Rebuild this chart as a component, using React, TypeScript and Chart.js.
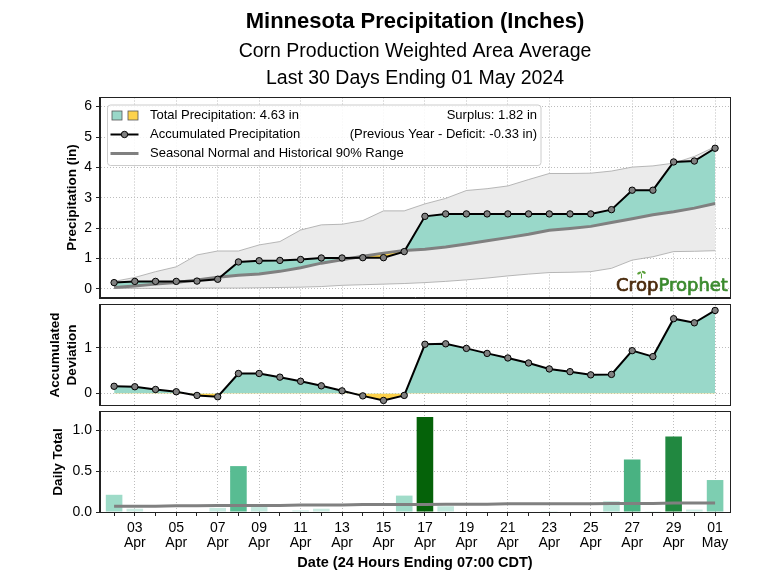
import React, { useEffect, useRef } from "react";
import { Chart, registerables } from "chart.js";

Chart.register(...registerables);

const FONT = "'Liberation Sans', Arial, Helvetica, sans-serif";

// ---------------- data ----------------
const dayLabels = ["02","03","04","05","06","07","08","09","10","11","12","13","14","15","16","17","18","19","20","21","22","23","24","25","26","27","28","29","30","01"];
const monthLabels = ["Apr","Apr","Apr","Apr","Apr","Apr","Apr","Apr","Apr","Apr","Apr","Apr","Apr","Apr","Apr","Apr","Apr","Apr","Apr","Apr","Apr","Apr","Apr","Apr","Apr","Apr","Apr","Apr","Apr","May"];

const dailyTotal = [0.21,0.04,0,0,0,0.05,0.56,0.06,0,0.02,0.04,0,0,0,0.20,1.16,0.07,0,0,0,0,0.01,0,0,0.13,0.64,0.01,0.92,0.03,0.39];
const dailyNormal = [0.07,0.07,0.07,0.075,0.075,0.08,0.08,0.08,0.08,0.085,0.085,0.085,0.09,0.09,0.09,0.09,0.095,0.095,0.095,0.1,0.1,0.1,0.1,0.1,0.105,0.105,0.105,0.11,0.11,0.11];
const accumulated = [0.21,0.25,0.25,0.25,0.26,0.32,0.89,0.93,0.94,0.97,1.02,1.02,1.03,1.03,1.23,2.39,2.47,2.47,2.47,2.47,2.47,2.47,2.47,2.47,2.61,3.25,3.25,4.18,4.21,4.63];
const normalAccum = [0.05,0.10,0.16,0.21,0.30,0.39,0.45,0.49,0.58,0.70,0.85,0.96,1.08,1.18,1.27,1.31,1.38,1.48,1.59,1.69,1.80,1.93,1.99,2.06,2.19,2.31,2.44,2.54,2.66,2.81];
const upper90 = [0.25,0.38,0.57,0.73,1.12,1.25,1.25,1.45,1.56,1.94,2.11,2.13,2.25,2.57,2.57,2.80,2.98,3.24,3.30,3.39,3.60,3.80,3.80,3.81,3.88,4.01,4.05,4.14,4.36,4.68];
const lower90 = [0.02,0.02,0.02,0.02,0.03,0.03,0.03,0.04,0.05,0.06,0.08,0.12,0.14,0.16,0.18,0.21,0.25,0.30,0.36,0.43,0.49,0.54,0.55,0.57,0.68,0.95,1.06,1.23,1.24,1.26];
const deviation = [0.16,0.15,0.09,0.04,-0.04,-0.07,0.44,0.44,0.36,0.27,0.17,0.06,-0.05,-0.15,-0.04,1.08,1.09,0.99,0.88,0.78,0.67,0.54,0.48,0.41,0.42,0.94,0.81,1.64,1.55,1.82];

const yTicksTop = [0, 1, 2, 3, 4, 5, 6];
const yTicksDev = [0, 1];
const yTicksDaily = [0, 0.5, 1.0];

const titleMain = "Minnesota Precipitation (Inches)";
const titleSub = ["Corn Production Weighted Area Average", "Last 30 Days Ending 01 May 2024"];
const legendLabels = ["Total Precipitation: 4.63 in", "Accumulated Precipitation", "Seasonal Normal and Historical 90% Range"];
const legendNotes = ["Surplus: 1.82 in", "(Previous Year - Deficit: -0.33 in)"];
const xTitle = "Date (24 Hours Ending 07:00 CDT)";

// ---------------- style ----------------
const TEAL = "#99d8c9";
const YELLOW = "#fdd24c";
const GRID = "#bdbdbd";
const AX = "#222222";
const NORMAL_GRAY = "#808080";
const BAND_FILL = "#ebebeb";
const BAND_EDGE = "#a6a6a6";
const X_MIN = -0.68;
const X_MAX = 29.72;

const BAR_STOPS: [number, number[]][] = [
  [0, [0xd4, 0xef, 0xe7]],
  [0.2, [0xa0, 0xdc, 0xc9]],
  [0.4, [0x7b, 0xcd, 0xb0]],
  [0.6, [0x4f, 0xb8, 0x8b]],
  [0.9, [0x23, 0x8b, 0x45]],
  [1.2, [0x00, 0x5c, 0x00]],
];
function barColor(v: number) {
  for (let i = 0; i < BAR_STOPS.length - 1; i++) {
    const [a, ca] = BAR_STOPS[i];
    const [b, cb] = BAR_STOPS[i + 1];
    if (v <= b) {
      const t = Math.max(0, (v - a) / (b - a));
      const c = ca.map((x, k) => Math.round(x + (cb[k] - x) * t));
      return `rgb(${c[0]},${c[1]},${c[2]})`;
    }
  }
  const c = BAR_STOPS[BAR_STOPS.length - 1][1];
  return `rgb(${c[0]},${c[1]},${c[2]})`;
}

const pts = (arr: number[]) => arr.map((v, i) => ({ x: i, y: v }));

function xAxis(show: boolean): any {
  return {
    type: "linear",
    min: X_MIN,
    max: X_MAX,
    offset: false,
    afterBuildTicks: (s: any) => {
      s.ticks = dayLabels.map((_, i) => ({ value: i }));
    },
    afterFit: (s: any) => {
      s.height = show ? 64 : 0;
    },
    grid: {
      offset: false,
      color: (c: any) => (c.index % 2 === 1 ? GRID : "rgba(0,0,0,0)"),
      lineWidth: 1,
      drawTicks: show,
      tickLength: 4,
      tickColor: AX,
      tickWidth: 1,
    },
    border: { display: true, color: AX, width: 1, dash: [1, 2] },
    ticks: {
      display: show,
      autoSkip: false,
      maxRotation: 0,
      minRotation: 0,
      padding: 5,
      color: "#000",
      font: { family: FONT, size: 14, lineHeight: 1.07 },
      callback: (_v: any, i: number) => (i % 2 === 1 ? [dayLabels[i], monthLabels[i]] : ""),
    },
    title: {
      display: show,
      text: xTitle,
      color: "#000",
      font: { family: FONT, size: 14.5, weight: "bold", lineHeight: 1.2 },
      padding: { top: 0, bottom: 4 },
    },
  };
}

function yAxis(min: number, max: number, ticks: number[], fmt: (v: number) => string, title: any, pad: number, lh: number): any {
  return {
    type: "linear",
    min,
    max,
    afterBuildTicks: (s: any) => {
      s.ticks = ticks.map((v) => ({ value: v }));
    },
    afterFit: (s: any) => {
      s.width = 100;
    },
    grid: { color: GRID, lineWidth: 1, drawTicks: true, tickLength: 4, tickColor: AX, tickWidth: 1 },
    border: { display: true, color: AX, width: 1, dash: [1, 2] },
    ticks: {
      padding: 4,
      color: "#000",
      font: { family: FONT, size: 14 },
      callback: (v: any) => fmt(Number(v)),
    },
    title: {
      display: true,
      text: title,
      color: "#000",
      font: { family: FONT, size: 13.5, weight: "bold", lineHeight: lh },
      padding: { top: pad, bottom: 0 },
    },
  };
}

const framePlugin = {
  id: "frame",
  afterDatasetsDraw(chart: any) {
    const { left, top, right, bottom } = chart.chartArea;
    const ctx = chart.ctx;
    ctx.save();
    ctx.strokeStyle = AX;
    ctx.lineWidth = 1;
    ctx.setLineDash([]);
    ctx.strokeRect(Math.round(left) - 0.5, Math.round(top) - 0.5, Math.round(right - left) + 1, Math.round(bottom - top) + 1);
    ctx.restore();
  },
};

const titlePlugin = {
  id: "titles",
  afterDraw(chart: any) {
    const ctx = chart.ctx;
    const cx = (chart.chartArea.left + chart.chartArea.right) / 2;
    ctx.save();
    ctx.fillStyle = "#000";
    ctx.textAlign = "center";
    ctx.textBaseline = "alphabetic";
    ctx.font = `bold 22px ${FONT}`;
    ctx.fillText(titleMain, cx, 28);
    ctx.font = `19.5px ${FONT}`;
    ctx.fillText(titleSub[0], cx, 57);
    ctx.fillText(titleSub[1], cx, 84);
    ctx.restore();
  },
};

function roundRect(ctx: any, x: number, y: number, w: number, h: number, r: number) {
  ctx.beginPath();
  ctx.moveTo(x + r, y);
  ctx.lineTo(x + w - r, y);
  ctx.quadraticCurveTo(x + w, y, x + w, y + r);
  ctx.lineTo(x + w, y + h - r);
  ctx.quadraticCurveTo(x + w, y + h, x + w - r, y + h);
  ctx.lineTo(x + r, y + h);
  ctx.quadraticCurveTo(x, y + h, x, y + h - r);
  ctx.lineTo(x, y + r);
  ctx.quadraticCurveTo(x, y, x + r, y);
  ctx.closePath();
}

const legendPlugin = {
  id: "customLegend",
  afterDraw(chart: any) {
    const ctx = chart.ctx;
    const a = chart.chartArea;
    const bx = a.left + 7.5;
    const by = a.top + 7.5;
    const bw = 433.5;
    const bh = 60.5;
    const rows = [by + 10.5, by + 29.5, by + 48.5];
    ctx.save();
    roundRect(ctx, bx, by, bw, bh, 3);
    ctx.fillStyle = "rgba(255,255,255,0.85)";
    ctx.fill();
    ctx.strokeStyle = "#cccccc";
    ctx.lineWidth = 1;
    ctx.stroke();

    // patches
    ctx.lineWidth = 0.8;
    ctx.strokeStyle = "#555";
    ctx.fillStyle = TEAL;
    ctx.fillRect(bx + 4.5, rows[0] - 4.5, 10, 9);
    ctx.strokeRect(bx + 4.5, rows[0] - 4.5, 10, 9);
    ctx.fillStyle = YELLOW;
    ctx.fillRect(bx + 20.5, rows[0] - 4.5, 10, 9);
    ctx.strokeRect(bx + 20.5, rows[0] - 4.5, 10, 9);

    // accumulated handle
    ctx.strokeStyle = "#000";
    ctx.lineWidth = 2;
    ctx.beginPath();
    ctx.moveTo(bx + 3, rows[1]);
    ctx.lineTo(bx + 31, rows[1]);
    ctx.stroke();
    ctx.beginPath();
    ctx.arc(bx + 17, rows[1], 3.2, 0, Math.PI * 2);
    ctx.fillStyle = NORMAL_GRAY;
    ctx.fill();
    ctx.lineWidth = 1;
    ctx.stroke();

    // normal handle
    ctx.strokeStyle = NORMAL_GRAY;
    ctx.lineWidth = 3;
    ctx.beginPath();
    ctx.moveTo(bx + 3, rows[2]);
    ctx.lineTo(bx + 31, rows[2]);
    ctx.stroke();

    ctx.fillStyle = "#000";
    ctx.font = `13px ${FONT}`;
    ctx.textBaseline = "middle";
    ctx.textAlign = "left";
    legendLabels.forEach((t, i) => ctx.fillText(t, bx + 42.5, rows[i]));
    ctx.textAlign = "right";
    legendNotes.forEach((t, i) => ctx.fillText(t, bx + bw - 4, rows[i]));
    ctx.restore();
  },
};

const logoPlugin = {
  id: "logo",
  afterDatasetsDraw(chart: any) {
    const ctx = chart.ctx;
    const a = chart.chartArea;
    const brown = "#4a2a0c";
    const green = "#3b8a2e";
    ctx.save();
    ctx.font = `18px 'DejaVu Sans', sans-serif`;
    ctx.textBaseline = "alphabetic";
    ctx.textAlign = "left";
    ctx.lineJoin = "round";
    let x = a.right - 114;
    const y = a.bottom - 7;
    const parts: [string, string][] = [["Cr", brown], ["o", brown], ["p", brown], ["Prophet", green]];
    let oCenter = 0;
    parts.forEach(([t, c]) => {
      ctx.fillStyle = c;
      ctx.strokeStyle = c;
      ctx.lineWidth = 0.7;
      ctx.fillText(t, x, y);
      ctx.strokeText(t, x, y);
      const w = ctx.measureText(t).width;
      if (t === "o") oCenter = x + w / 2;
      x += w;
    });
    // sprout
    ctx.strokeStyle = "#5aa03a";
    ctx.fillStyle = "#5aa03a";
    ctx.lineWidth = 1;
    ctx.beginPath();
    ctx.moveTo(oCenter, y - 12);
    ctx.lineTo(oCenter, y - 17);
    ctx.stroke();
    ctx.beginPath();
    ctx.ellipse(oCenter - 2.3, y - 17.5, 2.2, 1.2, -0.5, 0, Math.PI * 2);
    ctx.fill();
    ctx.beginPath();
    ctx.ellipse(oCenter + 2.3, y - 18.2, 2.2, 1.2, 0.5, 0, Math.PI * 2);
    ctx.fill();
    ctx.restore();
  },
};

const commonPlugins = {
  legend: { display: false },
  tooltip: { enabled: false },
  title: { display: false },
  filler: { drawTime: "beforeDatasetsDraw", propagate: false },
};

function topConfig(): any {
  return {
    type: "line",
    data: {
      datasets: [
        {
          data: pts(accumulated),
          borderColor: "#000",
          borderWidth: 2,
          pointRadius: 3.2,
          pointBackgroundColor: NORMAL_GRAY,
          pointBorderColor: "#000",
          pointBorderWidth: 1,
          tension: 0,
          fill: { target: 1, above: TEAL, below: YELLOW },
        },
        {
          data: pts(normalAccum),
          borderColor: NORMAL_GRAY,
          borderWidth: 3,
          pointRadius: 0,
          tension: 0,
          fill: false,
        },
        {
          data: pts(upper90),
          borderColor: BAND_EDGE,
          borderWidth: 0.8,
          pointRadius: 0,
          tension: 0,
          backgroundColor: BAND_FILL,
          fill: "+1",
        },
        {
          data: pts(lower90),
          borderColor: BAND_EDGE,
          borderWidth: 0.8,
          pointRadius: 0,
          tension: 0,
          fill: false,
        },
      ],
    },
    options: {
      responsive: false,
      animation: false,
      devicePixelRatio: 1,
      events: [],
      layout: { padding: { left: 0, right: 38, top: 97.5, bottom: 278.5 } },
      scales: {
        x: xAxis(false),
        y: yAxis(-0.28, 6.3, yTicksTop, (v) => String(v), "Precipitation (in)", 64, 1.2),
      },
      plugins: commonPlugins,
    },
    plugins: [framePlugin, titlePlugin, logoPlugin, legendPlugin],
  };
}

function midConfig(): any {
  return {
    type: "line",
    data: {
      datasets: [
        {
          data: pts(deviation),
          borderColor: "#000",
          borderWidth: 2,
          pointRadius: 3.2,
          pointBackgroundColor: NORMAL_GRAY,
          pointBorderColor: "#000",
          pointBorderWidth: 1,
          tension: 0,
          fill: { target: "origin", above: TEAL, below: YELLOW },
        },
      ],
    },
    options: {
      responsive: false,
      animation: false,
      devicePixelRatio: 1,
      events: [],
      layout: { padding: { left: 0, right: 38, top: 305, bottom: 171 } },
      scales: {
        x: xAxis(false),
        y: yAxis(-0.25, 1.94, yTicksDev, (v) => String(v), ["Accumulated", "Deviation"], 46.5, 1.27),
      },
      plugins: commonPlugins,
    },
    plugins: [framePlugin],
  };
}

function botConfig(): any {
  return {
    type: "bar",
    data: {
      datasets: [
        {
          type: "line",
          data: pts(dailyNormal),
          borderColor: NORMAL_GRAY,
          borderWidth: 3,
          pointRadius: 0,
          tension: 0,
          fill: false,
          order: 0,
        },
        {
          type: "bar",
          data: pts(dailyTotal),
          backgroundColor: dailyTotal.map(barColor),
          borderWidth: 0,
          barPercentage: 0.8,
          categoryPercentage: 1,
          order: 1,
        },
      ],
    },
    options: {
      responsive: false,
      animation: false,
      devicePixelRatio: 1,
      events: [],
      layout: { padding: { left: 0, right: 38, top: 412, bottom: 0 } },
      scales: {
        x: xAxis(true),
        y: yAxis(0, 1.22, yTicksDaily, (v) => v.toFixed(1), "Daily Total", 50, 1.2),
      },
      plugins: commonPlugins,
    },
    plugins: [framePlugin],
  };
}

export default function App() {
  const r1 = useRef<HTMLCanvasElement>(null);
  const r2 = useRef<HTMLCanvasElement>(null);
  const r3 = useRef<HTMLCanvasElement>(null);

  useEffect(() => {
    const charts: Chart[] = [];
    if (r1.current) charts.push(new Chart(r1.current, topConfig()));
    if (r2.current) charts.push(new Chart(r2.current, midConfig()));
    if (r3.current) charts.push(new Chart(r3.current, botConfig()));
    return () => charts.forEach((c) => c.destroy());
  }, []);

  const cs: React.CSSProperties = { position: "absolute", left: 0, top: 0, width: 768, height: 576 };
  return (
    <div style={{ position: "fixed", left: 0, top: 0, width: 768, height: 576, background: "#fff" }}>
      <canvas ref={r1} width={768} height={576} style={cs} />
      <canvas ref={r2} width={768} height={576} style={cs} />
      <canvas ref={r3} width={768} height={576} style={cs} />
    </div>
  );
}
